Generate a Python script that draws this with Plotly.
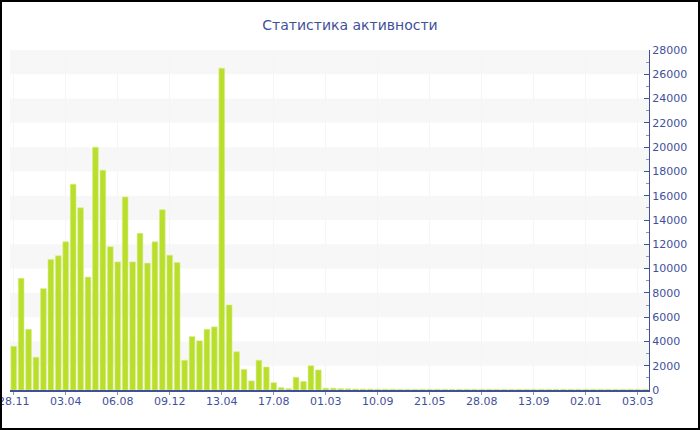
import plotly.graph_objects as go

# ---- data ----
title_text = "Статистика активности"
tick_labels = ["28.11", "03.04", "06.08", "09.12", "13.04", "17.08", "01.03",
               "10.09", "21.05", "28.08", "13.09", "02.01", "03.03"]
values = [3600, 9200, 5000, 2700, 8350, 10750, 11050, 12200, 16950, 15000,
          9300, 20000, 18100, 11800, 10550, 15900, 10550, 12900, 10450, 12200,
          14850, 11100, 10500, 2450, 4400, 4050, 5000, 5200, 26500, 7000,
          3150, 1700, 750, 2450, 1900, 600, 200, 110, 1050, 700,
          2000, 1650, 150, 150, 110, 100, 90, 80, 80, 70,
          70, 70, 60, 60, 60, 60, 60, 60, 60, 60,
          60, 60, 60, 60, 60, 60, 60, 60, 60, 60,
          60, 60, 60, 60, 60, 60, 60, 60, 60, 60,
          60, 60, 60, 60, 60, 60]
positions = list(range(len(values)))
tick_step = 7
y_max = 28000

BLUE = "#3f519b"
W, H = 700, 430
ML, MR, MT, MB = 10, 51, 50, 40

fig = go.Figure()
fig.add_trace(go.Bar(
    x=positions, y=values,
    marker=dict(color="#bade2c", line=dict(color="#d6ee8a", width=0.6)),
    hoverinfo="x+y",
))

shapes = []
# alternating bands
for lo in range(2000, y_max, 4000):
    shapes.append(dict(type="rect", xref="paper", yref="y", x0=0, x1=1,
                       y0=lo, y1=lo + 2000, fillcolor="#f7f7f7",
                       line=dict(width=0), layer="below"))
# outer border (converted from pixels to paper coords)
pw, ph = W - ML - MR, H - MT - MB
def px_x(p):
    return (p - ML) / pw
def px_y(p):
    return (H - MB - p) / ph
shapes.append(dict(type="rect", xref="paper", yref="paper",
                   x0=px_x(1), x1=px_x(W - 1), y0=px_y(1), y1=px_y(H - 1),
                   line=dict(color="black", width=2), fillcolor="rgba(0,0,0,0)",
                   layer="above"))

fig.update_layout(
    width=W, height=H,
    margin=dict(l=ML, r=MR, t=MT, b=MB, autoexpand=False),
    paper_bgcolor="white", plot_bgcolor="white",
    font=dict(family="DejaVu Sans, Verdana, sans-serif", size=11, color=BLUE),
    title=dict(text=title_text, x=0.5, xanchor="center", y=1 - 25 / H,
               yanchor="middle", font=dict(size=14, color=BLUE)),
    bargap=0.23,
    showlegend=False,
    shapes=shapes,
)
fig.update_xaxes(
    range=[-0.5, len(values) - 0.5],
    tickmode="array",
    tickvals=positions[::tick_step],
    ticktext=tick_labels,
    ticks="outside", ticklen=3, tickcolor="#8a94b8",
    ticklabeloverflow="allow", ticklabelstandoff=-3,
    showline=True, linecolor=BLUE, linewidth=1.5,
    showgrid=True, gridcolor="#f5f5f5", gridwidth=1,
    zeroline=False, automargin=False,
    tickfont=dict(size=11, color=BLUE),
)
fig.update_yaxes(
    side="right",
    range=[0, y_max],
    tickmode="linear", tick0=0, dtick=2000, tickformat="d",
    ticks="inside", ticklen=5, tickcolor=BLUE,
    minor=dict(ticks="inside", ticklen=3, dtick=1000, tickcolor="#8a94b8"),
    showline=True, linecolor=BLUE, linewidth=1,
    showgrid=False, zeroline=False, automargin=False,
    tickfont=dict(size=11, color=BLUE),
)

fig.write_html(
    "out.html",
    config={"displayModeBar": False},
    post_script="document.body.style.margin='0';document.body.style.overflow='hidden';",
)
